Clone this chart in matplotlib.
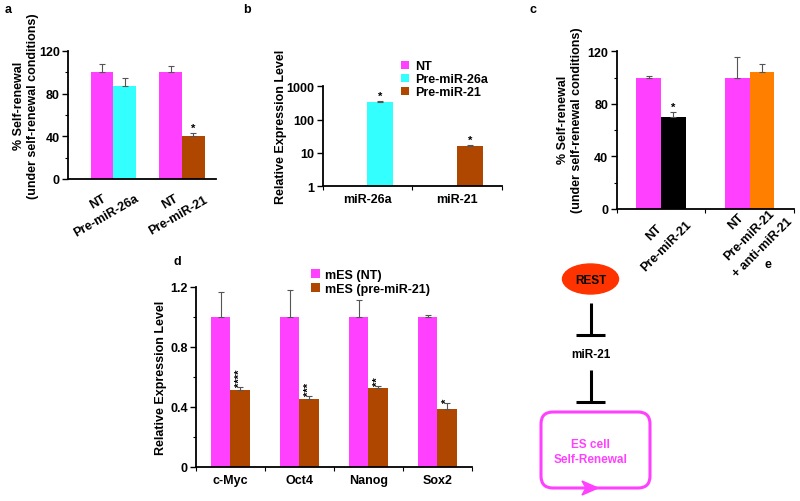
import matplotlib
matplotlib.use('Agg')
import matplotlib.pyplot as plt
from matplotlib.patches import Ellipse, FancyBboxPatch, Polygon
from matplotlib.ticker import MultipleLocator, NullLocator, FuncFormatter
import matplotlib.transforms as mtransforms
import numpy as np

plt.rcParams['font.family'] = ['Liberation Sans', 'DejaVu Sans']
plt.rcParams['font.weight'] = 'bold'
plt.rcParams['axes.labelweight'] = 'bold'

MAGENTA = '#FF40FF'
CYAN = '#33FFFF'
BROWN = '#B04700'
ORANGE = '#FF7F00'
BLACK = '#000000'
ERR = '#555555'

# panel a
a_groups = ['NT\nPre-miR-26a', 'NT\nPre-miR-21']
a_nt = [100, 100]
a_nt_err = [8, 6]
a_trt = [87, 40]
a_trt_err = [7.5, 3]
a_trt_colors = [CYAN, BROWN]
a_stars = ['', '*']

# panel b
b_groups = ['miR-26a', 'miR-21']
b_nt = [1, 1]
b_trt = [347, 16.5]
b_trt_err = [10, 0.6]
b_trt_colors = [CYAN, BROWN]
b_legend = ['NT', 'Pre-miR-26a', 'Pre-miR-21']
b_stars = ['*', '*']

# panel c
c_groups = ['NT\nPre-miR-21', 'NT\nPre-miR-21\n+ anti-miR-21']
c_nt = [100, 100]
c_nt_err = [1.5, 15.5]
c_trt = [70, 104]
c_trt_err = [4, 6]
c_trt_colors = [BLACK, ORANGE]
c_stars = ['*', '']

# panel d
d_genes = ['c-Myc', 'Oct4', 'Nanog', 'Sox2']
d_nt = [1.0, 1.0, 1.0, 1.0]
d_nt_err = [0.167, 0.18, 0.11, 0.013]
d_mir = [0.513, 0.451, 0.522, 0.387]
d_mir_err = [0.017, 0.022, 0.016, 0.036]
d_stars = ['****', '***', '**', '*']
d_legend = ['mES (NT)', 'mES (pre-miR-21)']

W, H = 800, 502
fig = plt.figure(figsize=(W / 100, H / 100), dpi=100)


def px_axes(x0, y0, x1, y1):
    return fig.add_axes([x0 / W, 1 - y1 / H, (x1 - x0) / W, (y1 - y0) / H])


def style(ax):
    for s in ['top', 'right']:
        ax.spines[s].set_visible(False)
    for s in ['left', 'bottom']:
        ax.spines[s].set_linewidth(1.3)
    ax.tick_params(axis='y', which='major', direction='out', length=4, width=1, labelsize=9, pad=2)
    ax.tick_params(axis='y', which='minor', direction='out', length=2.5, width=0.8)
    ax.tick_params(axis='x', which='major', direction='out', length=3, width=0.8, labelbottom=False)
    ax.tick_params(axis='x', which='minor', length=0, labelsize=9, pad=5)


def errbars(ax, x, y, err):
    ax.errorbar(x, y, yerr=[np.zeros(len(err)), err], fmt='none', ecolor=ERR,
                elinewidth=0.8, capsize=2.2, capthick=0.8)


def stars(ax, x, top, labels, rot=0, size=8):
    for xi, t, s in zip(x, top, labels):
        if s:
            ax.text(xi, t, s, ha='center', va='bottom', rotation=rot, fontsize=size)


def cat_labels(ax, xs, ys, labels, rot, spacing):
    # rotated multi-line category labels, placed by block centre
    trans = mtransforms.blended_transform_factory(ax.transData, ax.transAxes)
    for xi, yi, lab in zip(xs, ys, labels):
        ax.text(xi, yi, lab, transform=trans, rotation=rot, ha='center', va='center',
                multialignment='center', linespacing=spacing, fontsize=9)


# ---- a ----
ax = px_axes(68, 52, 216, 180)
style(ax)
x = np.arange(len(a_groups))
w = 0.33
ax.bar(x - w / 2, a_nt, w, color=MAGENTA)
ax.bar(x + w / 2, a_trt, w, color=a_trt_colors)
errbars(ax, x - w / 2, a_nt, a_nt_err)
errbars(ax, x + w / 2, a_trt, a_trt_err)
stars(ax, x + w / 2, np.array(a_trt) + np.array(a_trt_err), a_stars)
ax.set_xlim(-0.664, 1.496)
ax.set_ylim(0, 120)
ax.yaxis.set_major_locator(MultipleLocator(40))
ax.yaxis.set_minor_locator(MultipleLocator(20))
ax.set_xticks([])
cat_labels(ax, x + np.array([-0.17, -0.12]), [-0.23, -0.23], a_groups, 30, 1.45)
ax.set_ylabel('% Self-renewal\n(under self-renewal conditions)', fontsize=9)
ax.yaxis.set_label_coords(-0.195, 0.58)

# ---- b ----
ax = px_axes(322.7, 87.3, 501.7, 187.3)
style(ax)
x = np.arange(len(b_groups))
w = 0.29
ax.set_yscale('log')
hnt = ax.bar(x - w / 2, b_nt, w, color=MAGENTA)
bars = ax.bar(x + w / 2, b_trt, w, color=b_trt_colors)
errbars(ax, x + w / 2, b_trt, b_trt_err)
stars(ax, x + w / 2, np.array(b_trt) + np.array(b_trt_err), b_stars)
ax.set_xlim(-0.5, 1.5)
ax.set_ylim(1, 1000)
ax.set_yticks([1, 10, 100, 1000])
ax.set_yticklabels(['1', '10', '100', '1000'])
ax.yaxis.set_minor_locator(NullLocator())
ax.set_xticks([-0.5, 0.5, 1.5])
ax.set_xticks(x, minor=True)
ax.set_xticklabels(b_groups, minor=True)
ax.set_ylabel('Relative Expression Level', fontsize=9)
ax.yaxis.set_label_coords(-0.2, 0.6)
ax.legend([hnt[0], bars[0], bars[1]], b_legend, loc='upper left',
          bbox_to_anchor=(401 / W, 1 - 61 / H), bbox_transform=fig.transFigure,
          frameon=False, handlelength=0.6, handleheight=0.6, handletextpad=0.5,
          labelspacing=0.1, borderpad=0, borderaxespad=0, prop={'size': 9, 'weight': 'bold'})

# ---- c ----
ax = px_axes(616.7, 52.3, 794, 210)
style(ax)
x = np.arange(len(c_groups))
w = 0.28
ax.bar(x - w / 2, c_nt, w, color=MAGENTA)
ax.bar(x + w / 2, c_trt, w, color=c_trt_colors)
errbars(ax, x - w / 2, c_nt, c_nt_err)
errbars(ax, x + w / 2, c_trt, c_trt_err)
stars(ax, x + w / 2, np.array(c_trt) + np.array(c_trt_err), c_stars)
ax.set_xlim(-0.5, 1.5)
ax.set_ylim(0, 120)
ax.yaxis.set_major_locator(MultipleLocator(40))
ax.yaxis.set_minor_locator(MultipleLocator(20))
ax.set_xticks([-0.5, 0.5, 1.5])
cat_labels(ax, x + np.array([-0.01, 0.0]), [-0.19, -0.16], c_groups, 45, 1.75)
ax.set_ylabel('% Self-renewal\n(under self-renewal conditions)', fontsize=9)
ax.yaxis.set_label_coords(-0.19, 0.57)

# ---- d ----
ax = px_axes(196, 287.7, 471.7, 467.7)
style(ax)
x = np.arange(len(d_genes))
w = 0.28
h1 = ax.bar(x - w / 2, d_nt, w, color=MAGENTA)
h2 = ax.bar(x + w / 2, d_mir, w, color=BROWN)
errbars(ax, x - w / 2, d_nt, d_nt_err)
errbars(ax, x + w / 2, d_mir, d_mir_err)
stars(ax, x + w / 2, np.array(d_mir) + np.array(d_mir_err) + 0.005, d_stars, rot=90, size=8)
ax.set_xlim(-0.5, 3.5)
ax.set_ylim(0, 1.2)
ax.yaxis.set_major_locator(MultipleLocator(0.4))
ax.yaxis.set_minor_locator(MultipleLocator(0.2))
ax.yaxis.set_major_formatter(FuncFormatter(lambda v, p: '0' if abs(v) < 1e-9 else f'{v:.1f}'))
ax.set_xticks(np.arange(-0.5, 4, 1))
ax.set_xticks(x, minor=True)
ax.set_xticklabels(d_genes, minor=True)
ax.set_ylabel('Relative Expression Level', fontsize=9)
ax.yaxis.set_label_coords(-0.105, 0.5)
ax.legend([h1, h2], d_legend, loc='upper left',
          bbox_to_anchor=(311 / W, 1 - 270 / H), bbox_transform=fig.transFigure,
          frameon=False, handlelength=0.7, handleheight=0.7, handletextpad=0.4,
          labelspacing=0.15, borderpad=0, borderaxespad=0, prop={'size': 9, 'weight': 'bold'})

# ---- e (schematic) ----
ov = fig.add_axes([0, 0, 1, 1], zorder=-1)
ov.set_xlim(0, W)
ov.set_ylim(H, 0)
ov.axis('off')
ov.add_patch(Ellipse((590.5, 280), 56, 30, color='#FF3300'))
ov.text(590.5, 281, 'REST', ha='center', va='center', fontsize=8.5)
for y0, y1 in [(304, 336), (371, 403)]:
    ov.plot([590.7, 590.7], [y0, y1], color=BLACK, lw=2.2, solid_capstyle='butt')
    ov.plot([576, 605], [y1, y1], color=BLACK, lw=2.2, solid_capstyle='butt')
ov.text(590.5, 355, 'miR-21', ha='center', va='center', fontsize=8.5)
ov.add_patch(FancyBboxPatch((541, 413), 109, 76, boxstyle='round,pad=0,rounding_size=12',
                            fill=False, edgecolor=MAGENTA, lw=2.2))
ov.add_patch(Polygon([(582, 482), (598, 489), (582, 496), (586, 489)], closed=True, color=MAGENTA))
ov.text(590.5, 445, 'ES cell', ha='center', va='center', fontsize=8.5, color=MAGENTA)
ov.text(590.5, 460, 'Self-Renewal', ha='center', va='center', fontsize=8.5, color=MAGENTA)

# panel letters
for lab, px, py in [('a', 8, 10), ('b', 247, 10), ('c', 533, 10), ('d', 177, 262), ('e', 768, 265)]:
    fig.text(px / W, 1 - py / H, lab, ha='center', va='center', fontsize=9)

fig.savefig('out.png', dpi=100)
